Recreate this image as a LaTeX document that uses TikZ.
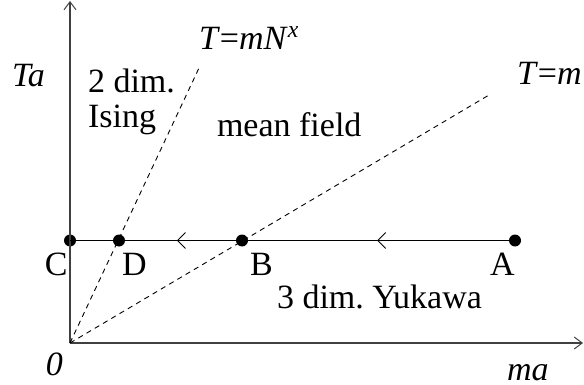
\documentclass[tikz,border=0pt]{standalone}
\usepackage{fontspec}
\setmainfont{Liberation Serif}
\usetikzlibrary{arrows.meta,decorations.markings}
\frenchspacing
\begin{document}
\begin{tikzpicture}[x=0.5pt,y=-0.5pt,
  lbl/.style={anchor=base west,inner sep=0pt,outer sep=0pt,font=\fontsize{17}{20}\selectfont},
  axis/.style={line width=0.55pt,draw=black!75,-{Straight Barb[length=4pt,width=6pt,line width=0.5pt]}},
  dot/.style={circle,fill=black,inner sep=0pt,minimum size=6pt},
  guide/.style={line width=0.45pt,dash pattern=on 2.6pt off 2.2pt},
  flow/.style={line width=0.5pt,postaction={decorate},decoration={markings,
     mark=at position 0.31 with {\arrow{Straight Barb[length=4pt,width=8pt,line width=0.45pt]}},
     mark=at position 0.76 with {\arrow{Straight Barb[length=4pt,width=8pt,line width=0.45pt]}}}}]
\useasboundingbox (0,0) rectangle (584,385);
\coordinate (O) at (70,343);
\coordinate (Ytop) at (70,1);
\coordinate (Xend) at (583,343);
\coordinate (L1) at (199,68);
\coordinate (L2) at (489,95);
\node[dot] (A) at (515,240.5) {};
\node[dot] (B) at (242,240.5) {};
\node[dot] (C) at (70,240.5) {};
\node[dot] (D) at (119,240.5) {};
\draw[axis] (O) -- (Ytop);
\draw[axis] (O) -- (Xend);
\draw[guide] (O) -- (L1);
\draw[guide] (O) -- (L2);
\draw[flow] (A.center) -- (C.center);
\node[lbl] (ta) at (12,87) {\textit{Ta}};
\node[lbl] (tmn) at (199,50) {\textit{T}=\textit{mN}\textsuperscript{\textit{x}}};
\node[lbl] (tm) at (517,85) {\textit{T}=\textit{m}};
\node[lbl] (dim2) at (88,93) {2 dim.};
\node[lbl] (ising) at (88,128) {Ising};
\node[lbl] (mf) at (217,137) {mean field};
\node[lbl] (lC) at (45,275) {C};
\node[lbl] (lD) at (122,275) {D};
\node[lbl] (lB) at (250,275) {B};
\node[lbl] (lA) at (490,275) {A};
\node[lbl] (yuk) at (277,308) {3 dim. Yukawa};
\node[lbl] (zero) at (46,375) {\textit{0}};
\node[lbl] (ma) at (507,380) {\textit{ma}};
\end{tikzpicture}
\end{document}
